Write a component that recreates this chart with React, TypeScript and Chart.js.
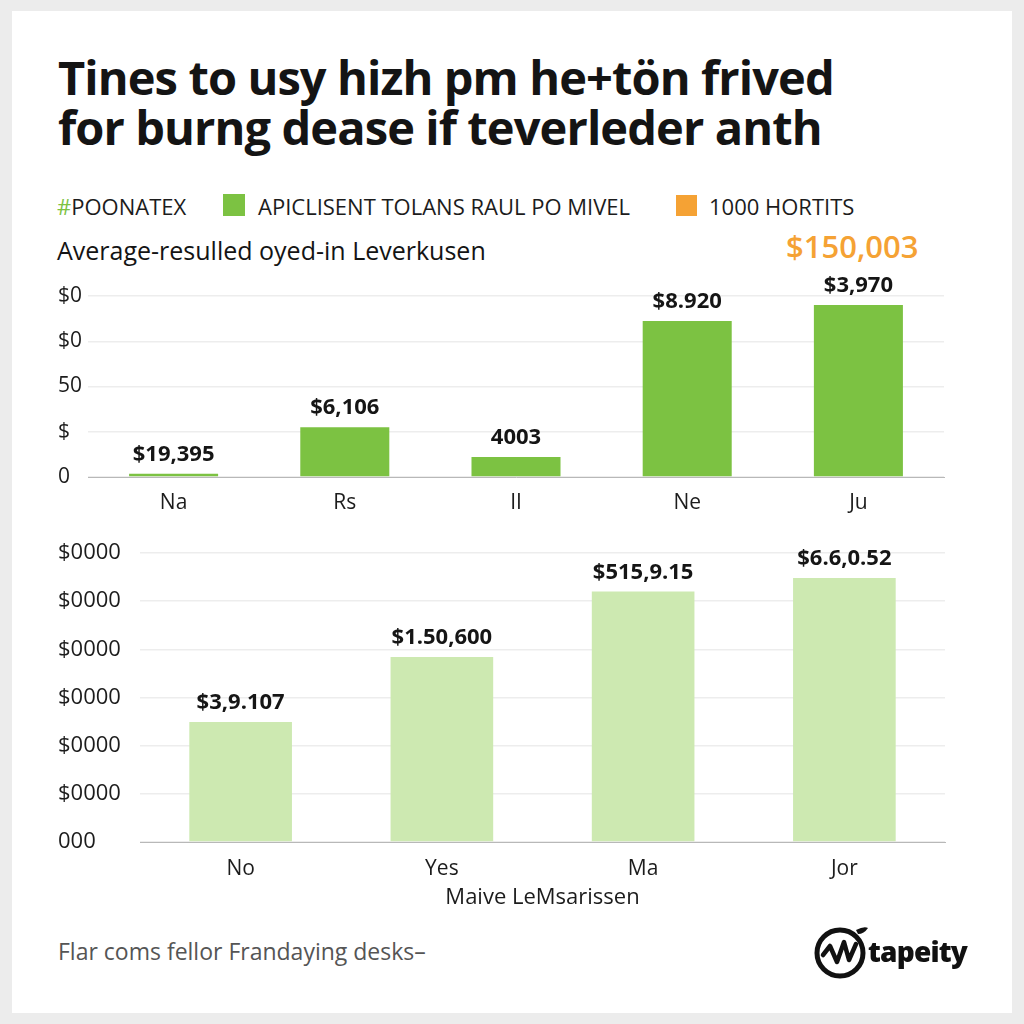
import React, { useEffect, useRef } from "react";
import { Chart, registerables } from "chart.js";

Chart.register(...registerables);

// ---------- data ----------
const titleLines = ["Tines to usy hizh pm he+tön frived", "for burng dease if teverleder anth"];
const legendFirst = "POONATEX";
const legendGreen = "APICLISENT TOLANS RAUL PO MIVEL";
const legendOrange = "1000 HORTITS";
const subtitle = "Average-resulled oyed-in Leverkusen";
const highlightValue = "$150,003";

const topCategories = ["Na", "Rs", "II", "Ne", "Ju"];
const topValues = [0.07, 1.1, 0.44, 3.45, 3.8];
const topValueLabels = ["$19,395", "$6,106", "4003", "$8.920", "$3,970"];
const topTickLabels = ["0", "$", "50", "$0", "$0"];

const bottomCategories = ["No", "Yes", "Ma", "Jor"];
const bottomValues = [2.49, 3.84, 5.2, 5.48];
const bottomValueLabels = ["$3,9.107", "$1.50,600", "$515,9.15", "$6.6,0.52"];
const bottomTickLabels = ["000", "$0000", "$0000", "$0000", "$0000", "$0000", "$0000"];
const bottomAxisTitle = "Maive LeMsarissen";

const footerText = "Flar coms fellor Frandaying desks–";
const brandName = "tapeity";

// ---------- styles ----------
const FONT = "'Open Sans', 'Noto Sans', sans-serif";
const GREEN = "#7cc242";
const LIGHT_GREEN = "#cde9b1";
const ORANGE = "#f5a234";

const valueLabelPlugin = {
  id: "valueLabels",
  afterDatasetsDraw(chart: any, _args: any, opts: any) {
    const ctx = chart.ctx;
    const meta = chart.getDatasetMeta(0);
    ctx.save();
    ctx.font = `700 ${opts.size}px ${FONT}`;
    ctx.fillStyle = "#151515";
    ctx.textAlign = "center";
    ctx.textBaseline = "middle";
    meta.data.forEach((bar: any, i: number) => {
      ctx.fillText(opts.labels[i], bar.x, bar.y - opts.offset);
    });
    ctx.restore();
  },
};

function useBarChart(
  ref: React.RefObject<HTMLCanvasElement | null>,
  cfg: {
    categories: string[];
    values: number[];
    valueLabels: string[];
    tickLabels: string[];
    max: number;
    color: string;
    barPct: number;
    yWidth: number;
    xHeight: number;
    padTop: number;
    padRight: number;
    xPad: number;
    yFont: number;
    xTitle?: string;
  }
) {
  useEffect(() => {
    if (!ref.current) return;
    const chart = new Chart(ref.current, {
      type: "bar",
      data: {
        labels: cfg.categories,
        datasets: [
          {
            data: cfg.values,
            backgroundColor: cfg.color,
            barPercentage: cfg.barPct,
            categoryPercentage: 1,
          },
        ],
      },
      options: {
        responsive: false,
        animation: false,
        layout: { padding: { left: 8, right: cfg.padRight, top: cfg.padTop, bottom: 0 } },
        plugins: {
          legend: { display: false },
          tooltip: { enabled: false },
          valueLabels: { labels: cfg.valueLabels, offset: 19, size: 22 },
        } as any,
        scales: {
          x: {
            grid: { display: false },
            border: { display: true, color: "#b8b8b8", width: 1 },
            ticks: { font: { size: 21, family: FONT }, color: "#1c1c1c", padding: cfg.xPad },
            title: cfg.xTitle
              ? {
                  display: true,
                  text: cfg.xTitle,
                  font: { size: 22, family: FONT },
                  color: "#1c1c1c",
                  padding: { top: 0, bottom: 19 },
                }
              : { display: false },
            afterFit: (s: any) => {
              s.height = cfg.xHeight;
            },
          },
          y: {
            min: 0,
            max: cfg.max,
            ticks: {
              stepSize: 1,
              callback: (_v: any, i: number) => cfg.tickLabels[i],
              crossAlign: "far",
              font: { size: cfg.yFont, family: FONT },
              color: "#1c1c1c",
              padding: 0,
            },
            grid: { color: "#ededed", drawTicks: false, lineWidth: 1.5 },
            border: { display: false },
            afterFit: (s: any) => {
              s.width = cfg.yWidth;
            },
          },
        },
      } as any,
      plugins: [valueLabelPlugin],
    });
    return () => chart.destroy();
  }, []);
}

function Logo() {
  return (
    <div style={{ position: "absolute", left: 812, top: 922, display: "flex", alignItems: "center" }}>
      <svg width="58" height="58" viewBox="0 0 58 58">
        <circle cx="28" cy="31" r="23" fill="none" stroke="#111" strokeWidth="5" />
        <path d="M11 33 L18 24 L25 40 L32 20 L37 38 L44 22" fill="none" stroke="#111" strokeWidth="4.5" strokeLinejoin="round" strokeLinecap="round" />
        <path d="M44 8 Q52 4 56 6 Q52 12 46 12 Z" fill="#111" />
      </svg>
      <span style={{ fontFamily: FONT, fontWeight: 800, fontSize: 28, color: "#111", marginLeft: -2, letterSpacing: -0.8 }}>
        {brandName}
      </span>
    </div>
  );
}

export default function App() {
  const topRef = useRef<HTMLCanvasElement>(null);
  const botRef = useRef<HTMLCanvasElement>(null);

  useEffect(() => {
    document.body.style.margin = "0";
  }, []);

  useBarChart(topRef, {
    categories: topCategories,
    values: topValues,
    valueLabels: topValueLabels,
    tickLabels: topTickLabels,
    max: 4,
    color: GREEN,
    barPct: 0.52,
    yWidth: 30,
    xHeight: 53,
    padTop: 26,
    padRight: 10,
    xPad: 5,
    yFont: 21,
  });

  useBarChart(botRef, {
    categories: bottomCategories,
    values: bottomValues,
    valueLabels: bottomValueLabels,
    tickLabels: bottomTickLabels,
    max: 6,
    color: LIGHT_GREEN,
    barPct: 0.51,
    yWidth: 82,
    xHeight: 88,
    padTop: 23,
    padRight: 9,
    xPad: 6,
    yFont: 22,
    xTitle: bottomAxisTitle,
  });

  const text = (extra: React.CSSProperties): React.CSSProperties => ({
    position: "absolute",
    fontFamily: FONT,
    whiteSpace: "nowrap",
    ...extra,
  });

  return (
    <div style={{ position: "relative", width: 1024, height: 1024, background: "#ececec", overflow: "hidden" }}>
      <div style={{ position: "absolute", left: 12, top: 11, width: 1000, height: 1002, background: "#ffffff" }} />
      {titleLines.map((t, i) => (
        <div key={i} style={text({ left: 58, top: 52 + i * 50, fontSize: 47, lineHeight: "50px", fontWeight: 700, color: "#141414", letterSpacing: -0.9 })}>
          {t}
        </div>
      ))}
      <div style={text({ left: 57, top: 192, fontSize: 22, lineHeight: "28px", color: "#1c1c1c" })}>
        <span style={{ color: GREEN }}>#</span>
        {legendFirst}
      </div>
      <div style={{ position: "absolute", left: 223, top: 194, width: 22, height: 22, background: GREEN }} />
      <div style={text({ left: 258, top: 192, fontSize: 22, lineHeight: "28px", color: "#1c1c1c" })}>{legendGreen}</div>
      <div style={{ position: "absolute", left: 676, top: 195, width: 21, height: 21, background: ORANGE }} />
      <div style={text({ left: 709, top: 192, fontSize: 22, lineHeight: "28px", color: "#1c1c1c" })}>{legendOrange}</div>
      <div style={text({ left: 57, top: 234, fontSize: 25, lineHeight: "32px", color: "#141414" })}>{subtitle}</div>
      <div style={text({ left: 786, top: 227, fontSize: 31, lineHeight: "38px", fontWeight: 600, color: ORANGE })}>{highlightValue}</div>

      <canvas ref={topRef} width={904} height={260} style={{ position: "absolute", left: 50, top: 270 }} />
      <canvas ref={botRef} width={904} height={400} style={{ position: "absolute", left: 50, top: 530 }} />

      <div style={text({ left: 58, top: 936, fontSize: 23, lineHeight: "30px", color: "#555555" })}>{footerText}</div>
      <Logo />
    </div>
  );
}
